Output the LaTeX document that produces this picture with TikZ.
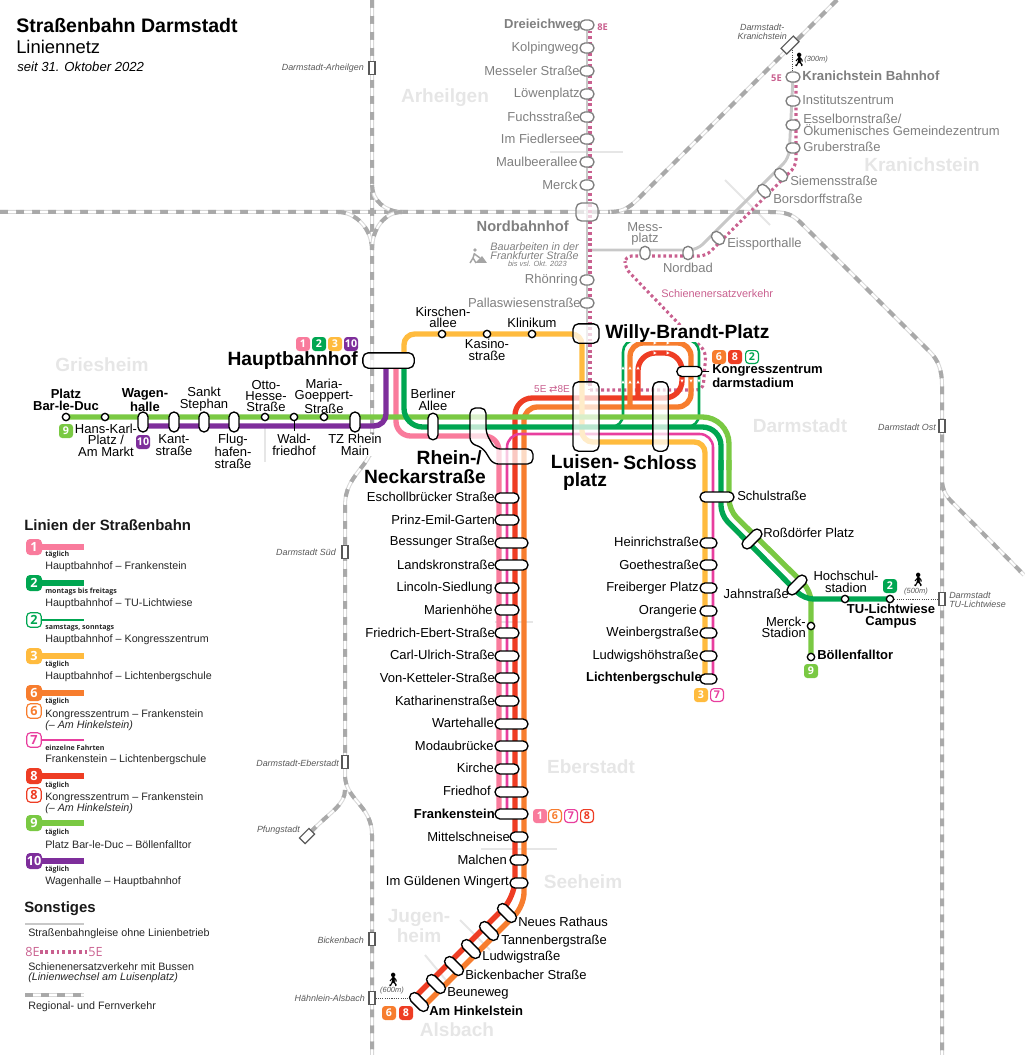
\documentclass[tikz,border=0pt]{standalone}
\usepackage{fontspec}
\setmainfont{Liberation Sans}
\newfontfamily\badgefont{Open Sans}
\newfontfamily\symfont{DejaVu Sans}
\newfontfamily\walkfont{Noto Emoji}
\usetikzlibrary{shapes.misc,backgrounds}
\definecolor{lineone}{HTML}{F97B9C}
\definecolor{linetwo}{HTML}{00A651}
\definecolor{linethree}{HTML}{FFBB3E}
\definecolor{linesix}{HTML}{F77D2E}
\definecolor{lineseven}{HTML}{E83E9E}
\definecolor{lineeight}{HTML}{EE3D24}
\definecolor{linenine}{HTML}{7AC943}
\definecolor{lineten}{HTML}{7E2E9B}
\definecolor{sevpink}{HTML}{C9608F}
\definecolor{railgrey}{HTML}{A9A9A9}
\definecolor{trackgrey}{HTML}{C8C8C8}
\definecolor{greytext}{HTML}{7F7F7F}
\definecolor{areagrey}{HTML}{E6E6E6}
\tikzset{
  rail/.style={draw=railgrey!45,line width=3pt,
               postaction={draw=railgrey,line width=3pt,dash pattern=on 6pt off 6pt},
               postaction={draw=white,line width=1.4pt,dash pattern=on 6pt off 6pt,dash phase=6pt}},
  track/.style={draw=trackgrey,line width=2.2pt},
  faint/.style={draw=areagrey,line width=1.5pt},
  sev/.style={draw=sevpink,line width=2.3pt,dash pattern=on 2.1pt off 2.1pt},
  walkway/.style={draw=black!70,line width=.7pt,dash pattern=on .8pt off .9pt},
  tram/.style={line width=4pt,draw=#1},
  thin/.style={line width=1.9pt,draw=#1},
  stn/.style={rounded rectangle,draw=black,line width=1pt,fill=white,inner sep=0,
              minimum height=7.5pt,minimum width=#1},
  stnS/.style={stn=18pt},
  stnL/.style={stn=24.75pt},
  stnV/.style={stn=15pt,rotate=90},
  stnD/.style={stn=17pt,rotate=-45},
  gstn/.style={rounded rectangle,draw=greytext,line width=1pt,fill=white,inner sep=0,
              minimum height=7.5pt,minimum width=#1},
  gstnK/.style={gstn=10.5pt},
  dot/.style={circle,draw=black,line width=1pt,fill=white,inner sep=0,minimum size=5.5pt},
  hub/.style={draw=black,line width=1pt,rounded corners=4pt,fill=white,fill opacity=.72,inner sep=0},
  halt/.style={draw=black!65,line width=.9pt,fill=white,inner sep=0,minimum width=4.5pt,minimum height=10pt},
  lab/.style={font=\fontsize{9.75}{8.6}\selectfont,inner sep=0,align=center},
  labb/.style={lab,font=\fontsize{9.75}{8.6}\selectfont\bfseries},
  glab/.style={lab,text=greytext},
  big/.style={inner sep=0,align=center,font=\fontsize{14.4}{14}\selectfont\bfseries},
  rlab/.style={inner sep=0,align=right,text=black!65,font=\fontsize{6.7}{6.7}\selectfont\itshape},
  area/.style={inner sep=0,align=center,text=areagrey,font=\fontsize{14.3}{14.5}\selectfont\bfseries},
  seelab/.style={inner sep=0,text=sevpink,font=\badgefont\fontsize{7.5}{8}\selectfont},
  bdg/.style={rounded corners=2.4pt,fill=#1,text=white,inner sep=0,minimum size=10.5pt,
              font=\badgefont\fontsize{8}{8}\selectfont\bfseries},
  bdgo/.style={rounded corners=2.4pt,draw=#1,line width=.9pt,fill=white,text=#1,inner sep=0,minimum size=9.6pt,
              font=\badgefont\fontsize{8}{8}\selectfont\bfseries},
  lbdg/.style={bdg=#1,minimum size=12pt,rounded corners=3pt,font=\badgefont\fontsize{9.5}{9.5}\selectfont\bfseries},
  lbdgo/.style={bdgo=#1,minimum size=11pt,rounded corners=3pt,font=\badgefont\fontsize{9.5}{9.5}\selectfont\bfseries},
  when/.style={anchor=west,inner sep=0,text=black!85,font=\badgefont\fontsize{5.3}{5.3}\selectfont\bfseries},
  leg/.style={anchor=west,inner sep=0,align=left,text=black!85,font=\fontsize{8.05}{7.2}\selectfont},
  legh/.style={anchor=west,inner sep=0,text=black!90,font=\fontsize{11.2}{11.2}\selectfont\bfseries},
  walk/.style={inner sep=0,font=\walkfont\fontsize{10}{10}\selectfont},
  dist/.style={inner sep=0,text=black!65,font=\fontsize{5.6}{5.6}\selectfont\itshape}
}
\begin{document}
\begin{tikzpicture}[x=.75pt,y=-.75pt]
  \useasboundingbox (0,0) rectangle (1024,1055);

  \node[inner sep=0,anchor=west,font=\fontsize{14.65}{14}\selectfont\bfseries] (title) at (16,26) {Straßenbahn Darmstadt};
  \node[inner sep=0,anchor=west,font=\fontsize{13.8}{14}\selectfont] (subtitle) at (16,47) {Liniennetz};
  \node[inner sep=0,anchor=west,font=\fontsize{9.85}{10}\selectfont\itshape] (since) at (17,67) {seit 31. Oktober 2022};

  \node[area] (arheilgen) at (445,98) {Arheilgen};
  \node[area] (griesheim) at (102,365) {Griesheim};
  \node[area] (kranichst) at (922,165) {Kranichstein};
  \node[area] (darmstadt) at (800,426) {Darmstadt};
  \node[area] (eberstadt) at (591,767) {Eberstadt};
  \node[area] (seeheim) at (583,882) {Seeheim};
  \node[area] (jugenheim) at (419,926) {Jugen-\\heim};
  \node[area] (alsbach) at (457,1030) {Alsbach};

  \node[halt] (hArheilgen) at (372,68) {};
  \node[halt] (hSued) at (345,552) {};
  \node[halt] (hEberstadt) at (345,762) {};
  \node[halt,rotate=-45,minimum width=6pt] (hPfung) at (307,836) {};
  \node[halt] (hBicken) at (372,939) {};
  \node[halt] (hHaehn) at (372,998) {};
  \node[halt] (hOst) at (942,426) {};
  \node[halt] (hTU) at (942,599) {};
  \node[halt,rotate=-45,minimum height=13pt,minimum width=6pt] (hKranich) at (790,45) {};
  \node[rlab,anchor=east] (tArheilgen) at (364,68) {Darmstadt-Arheilgen};
  \node[rlab,anchor=east] (tSued) at (336,552) {Darmstadt Süd};
  \node[rlab,anchor=east] (tEberstadt) at (339,763) {Darmstadt-Eberstadt};
  \node[rlab,anchor=east] (tPfung) at (300,830) {Pfungstadt};
  \node[rlab,anchor=east] (tBicken) at (364,940) {Bickenbach};
  \node[rlab,anchor=east] (tHaehn) at (365,998) {Hähnlein-Alsbach};
  \node[rlab,anchor=east] (tOst) at (936,427) {Darmstadt Ost};
  \node[rlab,anchor=west,align=left] (tTU) at (949,600) {Darmstadt\\TU-Lichtwiese};
  \node[rlab,anchor=east,align=center] (tKranich) at (787,32) {Darmstadt-\\Kranichstein};

  \node[gstnK] (dreieich) at (587,25) {};
  \node[gstnK] (kolping) at (587,48) {};
  \node[gstnK] (messeler) at (587,71) {};
  \node[gstnK] (loewen) at (587,94) {};
  \node[gstnK] (fuchs) at (587,117) {};
  \node[gstnK] (fiedler) at (587,139) {};
  \node[gstnK] (maulbeer) at (587,162) {};
  \node[gstnK] (merck) at (587,185) {};
  \node[draw=greytext,line width=1pt,rounded corners=4pt,fill=white,fill opacity=.7,inner sep=0,minimum width=16.5pt,minimum height=13.5pt] (nordbf) at (587,212) {};
  \node[gstnK] (roenring) at (587,280) {};
  \node[gstnK] (pallas) at (587,303) {};
  \node[gstn=10pt,rotate=90] (messpl) at (645,253) {};
  \node[gstn=10pt,rotate=90] (nordbad) at (688,253) {};
  \node[gstn=11pt,rotate=-45] (eissport) at (718,238) {};
  \node[gstn=11pt,rotate=-45] (borsdorf) at (764,191) {};
  \node[gstn=11pt,rotate=-45] (siemens) at (781,175) {};
  \node[gstnK] (gruber) at (793,148) {};
  \node[gstnK] (essel) at (793,125) {};
  \node[gstnK] (instit) at (793,101) {};
  \node[gstnK] (kranich) at (793,77) {};
  \node[glab,font=\fontsize{9.75}{8.6}\selectfont\bfseries,anchor=east] (tDreieich) at (581,25) {Dreieichweg};
  \node[seelab,anchor=west,font=\badgefont\fontsize{7}{7}\selectfont\bfseries] (tEightE) at (597,27) {8E};
  \node[glab,anchor=east] (tKolping) at (579,48) {Kolpingweg};
  \node[glab,anchor=east] (tMesseler) at (580,71) {Messeler Straße};
  \node[glab,anchor=east] (tLoewen) at (580,94) {Löwenplatz};
  \node[glab,anchor=east] (tFuchs) at (580,117) {Fuchsstraße};
  \node[glab,anchor=east] (tFiedler) at (580,139) {Im Fiedlersee};
  \node[glab,anchor=east] (tMaulbeer) at (578,162) {Maulbeerallee};
  \node[glab,anchor=east] (tMerck) at (578,185) {Merck};
  \node[inner sep=0,anchor=east,text=greytext,font=\fontsize{11}{11}\selectfont\bfseries] (tNordbf) at (569,226) {Nordbahnhof};
  \node[inner sep=0,anchor=east,align=center,text=greytext,font=\fontsize{8.1}{6.8}\selectfont\itshape] (tBau) at (579,251.5) {Bauarbeiten in der\\Frankfurter Straße};
  \node[inner sep=0,anchor=east,text=greytext,font=\fontsize{5.6}{6}\selectfont\itshape] (tBis) at (567,264) {bis vsl. Okt. 2023};
  \node[glab,anchor=east] (tRoenring) at (578,280) {Rhönring};
  \node[glab,anchor=east] (tPallas) at (581,303) {Pallaswiesenstraße};
  \node[glab] (tMesspl) at (645,234) {Mess-\\platz};
  \node[glab] (tNordbad) at (688,268) {Nordbad};
  \node[glab,anchor=west] (tEissport) at (727,244) {Eissporthalle};
  \node[seelab,anchor=west,font=\fontsize{8.2}{8}\selectfont] (tSev) at (661,294) {Schienenersatzverkehr};
  \node[glab,anchor=west] (tBorsdorf) at (773,199) {Borsdorffstraße};
  \node[glab,anchor=west] (tSiemens) at (790,181) {Siemensstraße};
  \node[glab,anchor=west] (tGruber) at (803,147) {Gruberstraße};
  \node[glab,anchor=west,align=left] (tEssel) at (803,125) {Esselbornstraße/\\Ökumenisches Gemeindezentrum};
  \node[glab,anchor=west] (tInstit) at (802,100) {Institutszentrum};
  \node[glab,font=\fontsize{9.9}{8.6}\selectfont\bfseries,anchor=west] (tKranichBf) at (802,76) {Kranichstein Bahnhof};
  \node[seelab,anchor=east,font=\badgefont\fontsize{7}{7}\selectfont\bfseries] (tFiveE) at (782,78) {5E};
  \node[walk] (walkK) at (799,60) {🚶};
  \node[dist,anchor=west] (dK) at (804,60) {(300m)};

  \node[dot] (barduc) at (66,417) {};
  \node[dot] (hanskarl) at (105,417) {};
  \node[stnV] (wagen) at (143,422) {};
  \node[stnV] (kant) at (174,422) {};
  \node[stnV] (stephan) at (204,422) {};
  \node[stnV] (flug) at (234,422) {};
  \node[dot] (otto) at (265,417) {};
  \node[dot] (wald) at (294,417) {};
  \node[dot] (maria) at (324,417) {};
  \node[stnV] (tzrhein) at (355,422) {};
  \node[hub,minimum width=38.5pt,minimum height=11.5pt] (hbf) at (388.5,360.5) {};
  \node[dot] (kirschen) at (442,334) {};
  \node[dot] (kasino) at (487,334) {};
  \node[dot] (klinikum) at (532,334) {};
  \node[stn=20pt,rotate=90] (berliner) at (433,426.5) {};
  \node[hub,minimum width=19.5pt,minimum height=14.5pt] (willy) at (586,333.5) {};
  \node[hub,minimum width=19.5pt,minimum height=52pt] (luisen) at (586,416.5) {};
  \node[hub,minimum width=11.5pt,minimum height=52pt] (schloss) at (660.5,416.5) {};
  \node[stn=19pt] (kongress) at (689.5,371.5) {};
  \node[stn=25.5pt] (schul) at (717,497) {};
  \node[stn=18pt,rotate=45] (rossd) at (752,539) {};
  \node[stn=18pt,rotate=45] (jahn) at (797,585) {};
  \node[stn=12.75pt] (heinrich) at (708.5,543) {};
  \node[stn=12.75pt] (goethe) at (708.5,565) {};
  \node[stn=12.75pt] (freiberg) at (708.5,588) {};
  \node[stn=12.75pt] (orang) at (708.5,611) {};
  \node[stn=12.75pt] (weinberg) at (708.5,633) {};
  \node[stn=12.75pt] (ludwigsh) at (708.5,656) {};
  \node[stn=12.75pt] (lichtenb) at (708.5,679) {};
  \node[dot] (stadion) at (845,599) {};
  \node[dot] (tulicht) at (890,599) {};
  \node[dot] (merckst) at (811,626) {};
  \node[dot] (boellen) at (811,657) {};
  \node[stnS] (escholl) at (507,498) {};
  \node[stnS] (prinz) at (507,520) {};
  \node[stnL] (bessung) at (511.5,543) {};
  \node[stnL] (landskr) at (511.5,565) {};
  \node[stnS] (lincoln) at (507,588) {};
  \node[stnS] (marien) at (507,610) {};
  \node[stnS] (friedr) at (507,633) {};
  \node[stnS] (carl) at (507,656) {};
  \node[stnS] (ketteler) at (507,678) {};
  \node[stnS] (kathar) at (507,701) {};
  \node[stnL] (warte) at (511.5,724) {};
  \node[stnL] (modau) at (511.5,746) {};
  \node[stnS] (kirche) at (507,769) {};
  \node[stnL] (friedhof) at (511.5,792) {};
  \node[stnL] (franken) at (511.5,814) {};
  \node[stn=13.5pt] (mittel) at (519,837) {};
  \node[stn=13.5pt] (malchen) at (519,860) {};
  \node[stn=13.5pt] (wingert) at (519,883) {};
  \node[stnD] (rathaus) at (507,913) {};
  \node[stnD] (tannen) at (489,931) {};
  \node[stnD] (ludwig) at (471,949) {};
  \node[stnD] (bickenb) at (454,966) {};
  \node[stnD] (beune) at (436,984) {};
  \node[stnD] (hinkel) at (419,1002) {};

  \node[labb] (tBarduc) at (66,400) {Platz\\Bar-le-Duc};
  \node[lab] (tHanskarl) at (106,440) {Hans-Karl-\\Platz /\\Am Markt};
  \node[labb] (tWagen) at (145,400) {Wagen-\\halle};
  \node[lab] (tStephan) at (204,399) {Sankt\\Stephan};
  \node[lab] (tKant) at (174,445) {Kant-\\straße};
  \node[lab] (tFlug) at (233,451) {Flug-\\hafen-\\straße};
  \node[lab] (tOtto) at (266,396) {Otto-\\Hesse-\\Straße};
  \node[lab] (tWald) at (294,445) {Wald-\\friedhof};
  \node[lab] (tMaria) at (324,396) {Maria-\\Goeppert-\\Straße};
  \node[lab,fill=white] (tTz) at (355,445) {TZ Rhein\\Main};
  \node[big,anchor=east] (tHbf) at (358,361) {Hauptbahnhof};
  \node[lab] (tKirschen) at (443,317.5) {Kirschen-\\allee};
  \node[lab] (tKasino) at (487,350) {Kasino-\\straße};
  \node[lab] (tKlinikum) at (532,323) {Klinikum};
  \node[lab] (tBerliner) at (433,400) {Berliner\\Allee};
  \node[big,anchor=west,fill=white] (tWilly) at (605,333.5) {Willy-Brandt-Platz};
  \node[big,anchor=east,align=right] (tRhein) at (486,467) {Rhein-/\hspace*{3pt}\\Neckarstraße};
  \node[big] (tLuisen) at (585,472.5) {Luisen-\\platz};
  \node[big,anchor=west] (tSchloss) at (623,463) {Schloss};
  \node[labb,anchor=west,align=left] (tKongress) at (712,376) {Kongresszentrum\\darmstadium};
  \node[seelab,font=\fontsize{7.5}{8}\selectfont] (tWechsel) at (552,389) {5E {\symfont ⇄}8E};
  \node[lab,anchor=west] (tSchul) at (737,496) {Schulstraße};
  \node[lab,anchor=west] (tRossd) at (763,533) {Roßdörfer Platz};
  \node[lab,anchor=east] (tJahn) at (789,594) {Jahnstraße};
  \node[lab] (tStadion) at (846,582) {Hochschul-\\stadion};
  \node[labb] (tTulicht) at (891,616) {TU-Lichtwiese\\Campus};
  \node[lab,anchor=east,align=right] (tMerckst) at (806,627.5) {Merck-\\Stadion};
  \node[labb,anchor=west] (tBoellen) at (817,655) {Böllenfalltor};
  \node[walk] (walkT) at (918,580) {🚶};
  \node[dist] (dT) at (916,592) {(500m)};

  \node[lab,anchor=east] (tHeinrich) at (699,542) {Heinrichstraße};
  \node[lab,anchor=east] (tGoethe) at (699,565) {Goethestraße};
  \node[lab,anchor=east] (tFreiberg) at (699,588) {Freiberger Platz};
  \node[lab,anchor=east] (tOrang) at (697,611) {Orangerie};
  \node[lab,anchor=east] (tWeinberg) at (699,633) {Weinbergstraße};
  \node[lab,anchor=east] (tLudwigsh) at (699,656) {Ludwigshöhstraße};
  \node[labb,anchor=east] (tLichtenb) at (702,678) {Lichtenbergschule};

  \node[lab,anchor=east] (tEscholl) at (495,497) {Eschollbrücker Straße};
  \node[lab,anchor=east] (tPrinz) at (495,520) {Prinz-Emil-Garten};
  \node[lab,anchor=east] (tBessung) at (495,542) {Bessunger Straße};
  \node[lab,anchor=east] (tLandskr) at (495,565) {Landskronstraße};
  \node[lab,anchor=east] (tLincoln) at (493,588) {Lincoln-Siedlung};
  \node[lab,anchor=east] (tMarien) at (493,610) {Marienhöhe};
  \node[lab,anchor=east] (tFriedr) at (495,633) {Friedrich-Ebert-Straße};
  \node[lab,anchor=east] (tCarl) at (495,655) {Carl-Ulrich-Straße};
  \node[lab,anchor=east] (tKetteler) at (495,678) {Von-Ketteler-Straße};
  \node[lab,anchor=east] (tKathar) at (495,701) {Katharinenstraße};
  \node[lab,anchor=east] (tWarte) at (494,723) {Wartehalle};
  \node[lab,anchor=east] (tModau) at (494,746) {Modaubrücke};
  \node[lab,anchor=east] (tKirche) at (494,768) {Kirche};
  \node[lab,anchor=east] (tFriedhof) at (491,791) {Friedhof};
  \node[labb,anchor=east] (tFranken) at (495,814) {Frankenstein};
  \node[lab,anchor=east] (tMittel) at (510,837) {Mittelschneise};
  \node[lab,anchor=east] (tMalchen) at (507,860) {Malchen};
  \node[lab,anchor=east] (tWingert) at (509,882) {Im Güldenen Wingert};
  \node[lab,anchor=west] (tRathaus) at (518,922) {Neues Rathaus};
  \node[lab,anchor=west] (tTannen) at (501,941) {Tannenbergstraße};
  \node[lab,anchor=west] (tLudwig) at (482,957) {Ludwigstraße};
  \node[lab,anchor=west] (tBickenb) at (465,975) {Bickenbacher Straße};
  \node[lab,anchor=west] (tBeune) at (447,993) {Beuneweg};
  \node[labb,anchor=west] (tHinkel) at (429,1011) {Am Hinkelstein};
  \node[walk] (walkH) at (393,980) {🚶};
  \node[dist] (dH) at (392,991) {(600m)};

  \node[bdg=lineone] (bHbf1) at (303,344) {1};
  \node[bdg=linetwo] (bHbf2) at (319,344) {2};
  \node[bdg=linethree] (bHbf3) at (335,344) {3};
  \node[bdg=lineten] (bHbf10) at (351,344) {10};
  \node[bdg=linenine] (bBar9) at (66,431) {9};
  \node[bdg=lineten] (bWag10) at (143,442) {10};
  \node[bdg=linesix] (bKon6) at (719,357) {6};
  \node[bdg=lineeight] (bKon8) at (735,357) {8};
  \node[bdgo=linetwo] (bKon2) at (752,357) {2};
  \node[bdg=linetwo] (bTu2) at (890,586) {2};
  \node[bdg=linenine] (bBoe9) at (811,671) {9};
  \node[bdg=linethree] (bLi3) at (701,695) {3};
  \node[bdgo=lineseven] (bLi7) at (717,695) {7};
  \node[bdg=lineone] (bFr1) at (540,816) {1};
  \node[bdgo=linesix] (bFr6) at (555,816) {6};
  \node[bdgo=lineseven] (bFr7) at (571,816) {7};
  \node[bdgo=lineeight] (bFr8) at (587,816) {8};
  \node[bdg=linesix] (bHi6) at (389,1013) {6};
  \node[bdg=lineeight] (bHi8) at (406,1013) {8};

  \node[legh] (legTitle) at (24,525) {Linien der Straßenbahn};
  \node[lbdg=lineone] (leg1) at (34,547) {1};
  \node[when] (w1) at (45,555) {täglich};
  \node[leg] (t1) at (45,567) {Hauptbahnhof – Frankenstein};
  \node[lbdg=linetwo] (leg2) at (34,583) {2};
  \node[when] (w2) at (45,592) {montags bis freitags};
  \node[leg] (t2) at (45,604) {Hauptbahnhof – TU-Lichtwiese};
  \node[lbdgo=linetwo] (leg2o) at (34,620) {2};
  \node[when] (w2o) at (45,628) {samstags, sonntags};
  \node[leg] (t2o) at (45,640) {Hauptbahnhof – Kongresszentrum};
  \node[lbdg=linethree] (leg3) at (34,656) {3};
  \node[when] (w3) at (45,665) {täglich};
  \node[leg] (t3) at (45,677) {Hauptbahnhof – Lichtenbergschule};
  \node[lbdg=linesix] (leg6) at (34,693) {6};
  \node[lbdgo=linesix] (leg6o) at (34,711) {6};
  \node[when] (w6) at (45,702) {täglich};
  \node[leg] (t6) at (45,720) {Kongresszentrum – Frankenstein\\\textit{(– Am Hinkelstein)}};
  \node[lbdgo=lineseven] (leg7) at (34,740) {7};
  \node[when] (w7) at (45,748) {einzelne Fahrten};
  \node[leg] (t7) at (45,760) {Frankenstein – Lichtenbergschule};
  \node[lbdg=lineeight] (leg8) at (34,776) {8};
  \node[lbdgo=lineeight] (leg8o) at (34,795) {8};
  \node[when] (w8) at (45,786) {täglich};
  \node[leg] (t8) at (45,803) {Kongresszentrum – Frankenstein\\\textit{(– Am Hinkelstein)}};
  \node[lbdg=linenine] (leg9) at (34,823) {9};
  \node[when] (w9) at (45,833) {täglich};
  \node[leg] (t9) at (45,845) {Platz Bar-le-Duc – Böllenfalltor};
  \node[lbdg=lineten] (leg10) at (34,861) {10};
  \node[when] (w10) at (45,870) {täglich};
  \node[leg] (t10) at (45,882) {Wagenhalle – Hauptbahnhof};
  \node[legh] (legOther) at (24,909) {Sonstiges};
  \node[leg] (tTrack) at (28,934) {Straßenbahngleise ohne Linienbetrieb};
  \node[seelab,anchor=west,font=\badgefont\fontsize{9.5}{9.5}\selectfont] (leg8e) at (25,952) {8E};
  \node[seelab,anchor=west,font=\badgefont\fontsize{9.5}{9.5}\selectfont] (leg5e) at (88,952) {5E};
  \node[leg] (tSev2) at (28,972.5) {Schienenersatzverkehr mit Bussen\\\textit{(Linienwechsel am Luisenplatz)}};
  \node[leg] (tRail) at (28,1007) {Regional- und Fernverkehr};

  \coordinate (legEnd1) at (84,547);
  \coordinate (legEnd2) at (84,583);
  \coordinate (legEnd2o) at (84,620);
  \coordinate (legEnd3) at (84,656);
  \coordinate (legEnd6) at (84,693);
  \coordinate (legEnd7) at (84,740);
  \coordinate (legEnd8) at (84,776);
  \coordinate (legEnd9) at (84,823);
  \coordinate (legEnd10) at (84,861);
  \coordinate (legTrackA) at (25,924);
  \coordinate (legTrackB) at (84,924);
  \coordinate (legRailA) at (25,995);
  \coordinate (legRailB) at (84,995);

  \coordinate (hbfOne) at (396,368);
  \coordinate (hbfTwo) at (404,368);
  \coordinate (hbfThree) at (404,353);
  \coordinate (hbfTen) at (386,368);
  \coordinate (wagenTen) at (143,426);
  \coordinate (frankOne) at (499,814);
  \coordinate (frankSeven) at (507,814);
  \coordinate (liThree) at (705,679);
  \coordinate (liSeven) at (713,679);
  \coordinate (hinkEight) at (414.5,997.5);
  \coordinate (hinkSix) at (423.5,1006.5);
  \coordinate (sevNord) at (590,25);
  \coordinate (sevLuisen) at (590,390);
  \coordinate (sevKran) at (796,82);
  \coordinate (trackNord) at (587,20);
  \coordinate (trackSued) at (587,385);
  \coordinate (trackJunc) at (587,250);
  \coordinate (walkKa) at (792,50);
  \coordinate (walkKb) at (792,72);
  \coordinate (walkHa) at (411,998);
  \coordinate (tickKong) at (709,371.5);
  \coordinate (tickWald) at (294,431);

  \begin{scope}[on background layer]
    \draw[faint] (550,152) -- (623,152);
    \draw[faint] (725,180) -- (770,225);
    \draw[faint] (265,428) -- (265,462);
    \draw[faint] (495,622) -- (533,622);
    \draw[faint] (481,849) -- (557,849);
    \draw[faint] (460,920) -- (490,950);
    \draw[faint] (425,955) -- (450,985);

    \draw[rail] (0,212) -- (770,212) .. controls (785,212) and (792,214) .. (800,222) -- (930,352) .. controls (938,360) and (942,370) .. (942,385) -- (942,1055);
    \draw[rail] (942,483) .. controls (944,494) and (948,498) .. (952,502) -- (1024,575);
    \draw[rail] (837,0) -- (640,197) .. controls (632,205) and (625,212) .. (610,212);
    \draw[rail] (372,0) -- (372,445) .. controls (372,465) and (345,475) .. (345,505) -- (345,775) .. controls (345,800) and (372,805) .. (372,835) -- (372,1055);
    \draw[rail] (345,790) .. controls (345,805) and (330,812) .. (hPfung);
    \draw[rail] (372,185) .. controls (372,200) and (385,212) .. (402,212);
    \draw[rail] (338,212) .. controls (355,212) and (372,228) .. (372,250);
    \draw[rail] (402,212) .. controls (385,212) and (372,228) .. (372,250);
    \draw[rail] (legRailA) -- (legRailB);
    \draw[track] (trackNord) -- (trackSued);
    \draw[track,rounded corners=6pt] (trackJunc) -- (697,250) -- (789,158) -- (kranich.center);
    \draw[track] (legTrackA) -- (legTrackB);
    \draw[sev] (sevNord) -- (sevLuisen);
    \draw[sev,rounded corners=5pt] (sevLuisen) -- (703,390) -- (706,352) -- (625,268) -- (625,256) -- (706,256) -- (796,166) -- (sevKran);
    \draw[sev] (leg8e) -- (leg5e);

    \draw[walkway] (walkKa) -- (walkKb);
    \draw[walkway] (tulicht) -- (hTU);
    \draw[walkway] (hHaehn) -- (walkHa);

    \draw[tram=lineeight,rounded corners=13pt] (hinkEight) -- (515,897) -- (515,398) -- (682,398) -- (682,353) -- (638,353) -- (638,398);
    \draw[tram=linesix,rounded corners=10pt] (hinkSix) -- (524,906) -- (524,407) -- (691,407) -- (691,343) -- (630,343) -- (630,407);
    \draw[thin=linetwo,rounded corners=9pt] (615,427) -- (623,427) -- (623,340) -- (699,340) -- (699,427) -- (688,427);
    \draw[tram=lineone,rounded corners=11pt] (hbfOne) -- (396,436) -- (499,436) -- (frankOne);
    \draw[thin=lineseven,rounded corners=10pt] (frankSeven) -- (507,434) -- (713,434) -- (liSeven);
    \draw[tram=linethree,rounded corners=8pt] (hbfThree) -- (hbfThree |- kirschen) -- (582,334) -- (582,442) -- (705,442) -- (liThree);
    \draw[tram=linenine,rounded corners=20pt] (barduc.center) -- (729,417) -- (729,470);
    \draw[tram=linenine,rounded corners=8pt] (729,460) -- (729,510) -- (811,591) -- (boellen.center);
    \draw[tram=linetwo,rounded corners=14pt] (hbfTwo) -- (404,427) -- (721,427) -- (721,470);
    \draw[tram=linetwo,rounded corners=7pt] (721,460) -- (721,515) -- (804,599) -- (tulicht.center);
    \draw[tram=lineten,rounded corners=9pt] (wagenTen) -- (386,426) -- (hbfTen);

    \draw[tram=lineone] (leg1) -- (legEnd1);
    \draw[tram=linetwo] (leg2) -- (legEnd2);
    \draw[thin=linetwo] (leg2o) -- (legEnd2o);
    \draw[tram=linethree] (leg3) -- (legEnd3);
    \draw[tram=linesix] (leg6) -- (legEnd6);
    \draw[thin=lineseven] (leg7) -- (legEnd7);
    \draw[tram=lineeight] (leg8) -- (legEnd8);
    \draw[tram=linenine] (leg9) -- (legEnd9);
    \draw[tram=lineten] (leg10) -- (legEnd10);
  \end{scope}

  \foreach \x/\y in {623/368,630/368,638/368,623/382,630/382,638/382}
    \fill[white] (\x-1.6,\y+1.4) -- (\x+1.6,\y+1.4) -- (\x,\y-1.6) -- cycle;
  \foreach \x/\y in {682/381,691/381,699/381}
    \fill[white] (\x-1.6,\y-1.4) -- (\x+1.6,\y-1.4) -- (\x,\y+1.6) -- cycle;
  \foreach \x/\y in {655/343,668/343,655/353,668/353}
    \fill[white] (\x-1.4,\y-1.6) -- (\x-1.4,\y+1.6) -- (\x+1.6,\y) -- cycle;

  \draw[hub] (470,425) -- (470,408) -- (486,408) -- (486,433) -- (495,449) -- (533,449) -- (533,464) -- (493,464) -- (483,448) -- (470,443) -- cycle;
  \draw[black,line width=.7pt] (kongress) -- (tickKong);
  \draw[black,line width=.7pt] (wald) -- (tickWald);

  \fill[greytext!70] (475,263) -- (487,263) -- (482,256) -- cycle;
  \fill[greytext!70] (475,250) circle (1.8);
  \draw[greytext!70,line width=1.1pt] (474.5,253) -- (473,258) -- (470,263) (473,258) -- (476,263) (474.5,254) -- (480,258);
\end{tikzpicture}
\end{document}
